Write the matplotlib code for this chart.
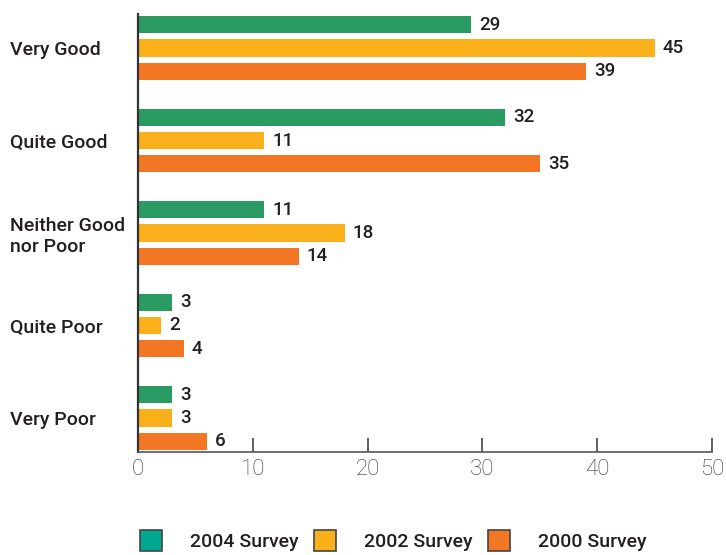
import matplotlib
matplotlib.use("Agg")
import matplotlib.pyplot as plt
from matplotlib.patches import Patch
import numpy as np

categories = ["Very Good", "Quite Good", "Neither Good\nnor Poor", "Quite Poor", "Very Poor"]
series_names = ["2004 Survey", "2002 Survey", "2000 Survey"]
v2004 = [29, 32, 11, 3, 3]
v2002 = [45, 11, 18, 2, 3]
v2000 = [39, 35, 14, 4, 6]
xticks = [0, 10, 20, 30, 40, 50]

bar_colors = ["#2A9B63", "#F9B01B", "#F27624"]
legend_colors = ["#00A88F", "#F9B01B", "#F27624"]
text_color = "#231F20"

plt.rcParams['font.family'] = ['Roboto', 'DejaVu Sans']

fig = plt.figure(figsize=(7.26, 5.55), dpi=100)
ax = fig.add_axes([138/726, 1-452/555, (712-138)/726, (452-14)/555])

y = np.arange(len(categories))
offsets = [-0.25, 0.0, 0.25]
for vals, off, col in zip([v2004, v2002, v2000], offsets, bar_colors):
    ax.barh(y + off, vals, height=0.185, color=col, edgecolor='none')
    for yi, v in zip(y, vals):
        ax.text(v + 0.7, yi + off, str(v), va='center', ha='left',
                fontsize=13.5, fontweight='medium', color=text_color)

ax.set_ylim(4.368, -0.368)
ax.set_xlim(0, 50)
ax.set_xticks(xticks)
ax.set_xticklabels([str(t) for t in xticks], fontsize=16, fontweight='light', color='#333333')
ax.tick_params(axis='x', direction='in', length=10, width=1.2, color='#444444', pad=5)
ax.set_yticks(y)
ax.set_yticklabels(categories, fontsize=14, fontweight='medium', color=text_color, ha='left',
                   linespacing=1.2)
ax.tick_params(axis='y', length=0, pad=(138-10)*72/100)
for s in ['top', 'right']:
    ax.spines[s].set_visible(False)
ax.spines['left'].set_color('#333333')
ax.spines['left'].set_linewidth(1.6)
ax.spines['bottom'].set_color('#555555')
ax.spines['bottom'].set_linewidth(1.2)

handles = [Patch(facecolor=c, edgecolor='#444444', linewidth=1.2) for c in legend_colors]
fig.legend(handles, series_names, loc='upper left', bbox_to_anchor=(140/726, 1-530/555),
           ncol=3, frameon=False, borderpad=0, borderaxespad=0, handlelength=1.13,
           handleheight=1.3, handletextpad=1.44, columnspacing=0.8,
           prop={'size': 14, 'weight': 'medium'}, labelcolor=text_color)

fig.savefig("out.png", dpi=100)
